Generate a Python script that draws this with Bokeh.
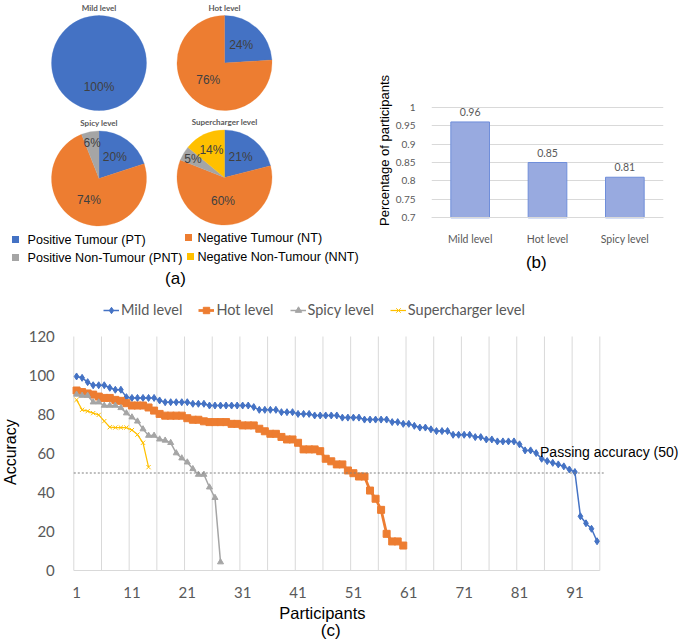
import math
from bokeh.plotting import figure
from bokeh.models import (Range1d, FactorRange, FixedTicker, Label, Legend,
                          LegendItem, NumeralTickFormatter)
from bokeh.layouts import column, row
from bokeh.embed import file_html
from bokeh.resources import INLINE
from bokeh.core.properties import value

# ---------------- data ----------------
pie_levels = ["Mild level", "Hot level", "Spicy level", "Supercharger level"]
pie_categories = ["Positive Tumour (PT)", "Negative Tumour (NT)",
                  "Positive Non-Tumour (PNT)", "Negative Non-Tumour (NNT)"]
mild_pie = [100, 0, 0, 0]
hot_pie = [24, 76, 0, 0]
spicy_pie = [20, 74, 6, 0]
super_pie = [21, 60, 5, 14]

bar_levels = ["Mild level", "Hot level", "Spicy level"]
bar_values = [0.96, 0.85, 0.81]
bar_ticks = [0.7, 0.75, 0.8, 0.85, 0.9, 0.95, 1.0]

line_names = ["Mild level", "Hot level", "Spicy level", "Supercharger level"]
mild_acc = [99.5, 98.8, 96.6, 95, 95, 95, 93.7, 92.7, 92.7, 88.9,
            88.5, 88.5, 88.5, 88.5, 88.5, 87.2, 86.3, 86.3, 86.3, 86.3,
            86.3, 85.5, 85.5, 85.5, 84.6, 84.6, 84.6, 84.6, 84.6, 84.6,
            84.6, 84.6, 83.8, 82.4, 82.4, 82.4, 82.4, 81.2, 81.2, 81.2,
            80.3, 80.3, 80.3, 79.5, 79.5, 79.5, 79.5, 79.5, 78.4, 78.4,
            78.4, 78.4, 77.4, 77.4, 77.4, 77.4, 77.4, 76.1, 76.1, 75.2,
            75.2, 74.2, 73.3, 73.3, 72.4, 71.5, 71.5, 71.5, 69.6, 69.6,
            69.6, 69.6, 68.4, 68.4, 67.2, 67.2, 66.2, 66.2, 66.2, 66.2,
            64.7, 61.6, 61.6, 60.2, 57.3, 56.1, 55.2, 54.4, 53.4, 51.8,
            50.5, 27.8, 24.2, 21.4, 15.0]
hot_acc = [92.3, 91.5, 90.8, 90.2, 89.2, 88.5, 88.5, 87.5, 87.0, 85.8,
           84.6, 84.6, 84.6, 83.6, 82.0, 80.3, 79.4, 79.4, 79.4, 79.4,
           78.1, 77.3, 77.3, 76.5, 76.1, 76.1, 76.1, 76.1, 75.2, 75.2,
           74.4, 74.4, 74.4, 72.7, 71.4, 70.1, 70.1, 68.5, 67.2, 67.2,
           65.5, 62.1, 62.1, 62.1, 61.2, 57.3, 56.0, 54.4, 54.4, 51.3,
           49.9, 48.2, 48.2, 41.0, 36.8, 31.1, 18.8, 14.9, 14.9, 12.8]
spicy_acc = [90.3, 89.7, 89.7, 86.3, 86.3, 84.6, 84.6, 84.6, 83.4, 80.7,
             78.6, 76.5, 72.5, 69.2, 69.2, 67.3, 66.7, 65.5, 60.2, 57.6,
             55.5, 52.1, 49.2, 49.2, 42.7, 37.3, 4.3]
super_acc = [87.5, 82.4, 81.7, 80.7, 79.8, 76.6, 73.5, 73.3, 73.3, 73.3,
             72.0, 69.7, 65.5, 53.0]
passing_accuracy = 50
x_tick_labels = [1, 11, 21, 31, 41, 51, 61, 71, 81, 91]
y_tick_labels = [0, 20, 40, 60, 80, 100, 120]

# ---------------- styles ----------------
pie_colors = ["#4472C4", "#ED7D31", "#A5A5A5", "#FFC000"]
GRAY_TXT = "#595959"
GRID = "#D9D9D9"
SANS_N = "Liberation Sans"
CAL_N = "Lato"
SANS = value(SANS_N)
CAL = value(CAL_N)

# ---------------- (a) pies ----------------
WA = 366
pa = figure(width=WA, height=300, x_range=Range1d(0, WA), y_range=Range1d(-300, 0),
            x_axis_location=None, y_axis_location=None, min_border=0,
            output_backend="svg", toolbar_location=None)
pa.grid.visible = False
pa.outline_line_color = None

pie_shares = [mild_pie, hot_pie, spicy_pie, super_pie]
pie_centers = [(98.5, 62.5), (224, 62.5), (98.5, 178), (224, 177)]
title_y = [7, 7, 122, 121]
R = 47.5
for level, shares, (cx, cy), ty in zip(pie_levels, pie_shares, pie_centers, title_y):
    total = float(sum(shares))
    cum = 0.0
    starts, ends, cols, lx, ly, lt = [], [], [], [], [], []
    for share, col in zip(shares, pie_colors):
        if share <= 0:
            continue
        f0 = cum / total
        f1 = (cum + share) / total
        cum += share
        # a slice covering the whole disc is drawn as two halves (a full arc is not rendered)
        pieces = 2 if (f1 - f0) > 0.999 else 1
        for k in range(pieces):
            a0 = f0 + (f1 - f0) * k / pieces
            a1 = f0 + (f1 - f0) * (k + 1) / pieces
            starts.append(math.pi / 2 - 2 * math.pi * a1)
            ends.append(math.pi / 2 - 2 * math.pi * a0)
            cols.append(col)
        mid = math.pi / 2 - 2 * math.pi * (f0 + f1) / 2
        frac = 0.5 + min(0.27, max(0.0, 25 - share) * 0.0135)
        lx.append(cx + R * frac * math.cos(mid))
        ly.append(-cy + R * frac * math.sin(mid))
        lt.append(f"{share}%")
    pa.wedge(x=cx, y=-cy, radius=R, start_angle=starts, end_angle=ends,
             fill_color=cols, line_color=cols, line_width=0.3)
    pa.text(x=lx, y=ly, text=lt, text_font=SANS, text_font_size="12px",
            text_color="#404040", text_align="center", text_baseline="middle")
    pa.text(x=[cx], y=[-ty], text=[level], text_font=CAL, text_font_size="8px",
            text_font_style="bold", text_color=GRAY_TXT, text_align="center",
            text_baseline="middle")

leg_sq_x = [15, 188, 15, 190]
leg_sq_y = [239, 237, 257, 256]
leg_tx = [27, 197, 27, 197]
pa.scatter(x=leg_sq_x, y=[-v for v in leg_sq_y], marker="square", size=7,
           fill_color=pie_colors, line_color=None)
pa.text(x=leg_tx, y=[-v for v in leg_sq_y], text=pie_categories, text_font=SANS,
        text_font_size="12.6px", text_color="#000000", text_baseline="middle")
pa.add_layout(Label(x=175, y=-278, text="(a)", text_font=SANS_N, text_font_size="17px",
                    text_align="center", text_baseline="middle", text_color="#000000"))

# ---------------- (b) bars ----------------
pb = figure(width=685 - WA, height=300, x_range=FactorRange(*bar_levels),
            y_range=Range1d(0.4757, 1.2894), min_border_left=431 - WA, min_border_right=22,
            min_border_top=0, min_border_bottom=0,
            output_backend="svg", toolbar_location=None)
pb.vbar(x=bar_levels, top=bar_values, bottom=0.7, width=0.5,
        fill_color="#98AAE0", line_color="#6F8EDA", line_width=1)
pb.text(x=bar_levels, y=bar_values, text=[f"{v:.2f}" for v in bar_values],
        y_offset=-10, text_font=CAL, text_font_size="10.5px", text_color=GRAY_TXT,
        text_align="center", text_baseline="middle")
pb.yaxis.ticker = FixedTicker(ticks=bar_ticks)
pb.yaxis.formatter = NumeralTickFormatter(format="0.[00]")
pb.yaxis.axis_line_color = None
pb.yaxis.major_tick_line_color = None
pb.yaxis.minor_tick_line_color = None
pb.yaxis.major_label_standoff = 10
pb.yaxis.axis_label = "Percentage of participants"
pb.yaxis.axis_label_standoff = 1
pb.yaxis.axis_label_text_font = SANS_N
pb.yaxis.axis_label_text_font_size = "13px"
pb.yaxis.axis_label_text_font_style = "normal"
pb.yaxis.axis_label_text_color = "#000000"
pb.xaxis.fixed_location = 0.7
pb.xaxis.axis_line_color = GRID
pb.xaxis.major_tick_line_color = None
pb.xaxis.major_label_standoff = 9
for ax in (pb.xaxis, pb.yaxis):
    ax.major_label_text_font = CAL_N
    ax.major_label_text_color = GRAY_TXT
pb.yaxis.major_label_text_font_size = "10px"
pb.xaxis.major_label_text_font_size = "10.5px"
pb.xgrid.visible = False
pb.ygrid.grid_line_color = GRID
pb.outline_line_color = None
pb.add_layout(Label(x=1.355, y=0.58, text="(b)", text_font=SANS_N, text_font_size="17px",
                    text_align="center", text_baseline="middle", text_color="#000000"))

# ---------------- (c) lines ----------------
X0, XSCALE = 73.3, 5.537   # pixel of category 0.5, px per participant
Y0, YSCALE = 570.0, 1.95   # pixel of accuracy 0, px per accuracy unit
pc = figure(width=685, height=344,
            x_range=Range1d(0.5 - X0 / XSCALE, 0.5 + (685 - X0) / XSCALE),
            y_range=Range1d((Y0 - 644) / YSCALE, (Y0 - 300) / YSCALE),
            min_border=0, output_backend="svg", toolbar_location=None)
series = [mild_acc, hot_acc, spicy_acc, super_acc]
line_colors = ["#4472C4", "#ED7D31", "#A5A5A5", "#FFC000"]
line_widths = [1.5, 2.75, 1.5, 1.25]
markers = ["diamond", "square", "triangle", "x"]
msizes = [7, 7, 6, 6]
n_max = max(len(s) for s in series)
x_lo, x_hi = 0.5, n_max + 0.5

grid_x = [x_lo + 5 * k for k in range(int((x_hi - x_lo) // 5) + 1)]
pc.segment(x0=grid_x, y0=0, x1=grid_x, y1=max(y_tick_labels), line_color=GRID, line_width=1)
pc.segment(x0=[x_lo], y0=[0], x1=[x_hi], y1=[0], line_color=GRID, line_width=1)

items = []
for name, vals, col, lw, mk, ms in zip(line_names, series, line_colors, line_widths, markers, msizes):
    xs = list(range(1, len(vals) + 1))
    l = pc.line(xs, vals, line_color=col, line_width=lw)
    s = pc.scatter(xs, vals, marker=mk, size=ms, fill_color=col, line_color=col, line_width=1)
    items.append(LegendItem(label=name, renderers=[l, s]))

pc.line([x_lo, x_hi + 0.7], [passing_accuracy, passing_accuracy], line_color="#7F7F7F",
        line_dash="2 2", line_width=1)
pc.add_layout(Label(x=84.7, y=60.7, text=f"Passing accuracy ({passing_accuracy})",
                    text_font=SANS_N, text_font_size="14px", text_align="left",
                    text_baseline="middle", text_color="#000000"))
legend = Legend(items=items, orientation="horizontal", location=(103, 326),
                padding=0, margin=0, spacing=16, glyph_width=16, glyph_height=16,
                label_standoff=2, label_height=16, label_text_font=CAL_N,
                label_text_font_size="14.5px", label_text_color=GRAY_TXT,
                background_fill_alpha=0, border_line_alpha=0)
pc.add_layout(legend)

pc.grid.visible = False
pc.xaxis.fixed_location = 0
pc.xaxis.ticker = FixedTicker(ticks=x_tick_labels)
pc.xaxis.axis_line_color = None
pc.xaxis.major_tick_line_color = None
pc.xaxis.minor_tick_line_color = None
pc.xaxis.major_label_standoff = 10
pc.yaxis.fixed_location = x_lo
pc.yaxis.ticker = FixedTicker(ticks=y_tick_labels)
pc.yaxis.axis_line_color = None
pc.yaxis.major_tick_line_color = None
pc.yaxis.minor_tick_line_color = None
pc.yaxis.major_label_standoff = 13
for ax in (pc.xaxis, pc.yaxis):
    ax.major_label_text_font = CAL_N
    ax.major_label_text_font_size = "15px"
    ax.major_label_text_color = GRAY_TXT
pc.outline_line_color = None
pc.add_layout(Label(x=-11.0, y=60.7, text="Accuracy", angle=math.pi / 2, text_font=SANS_N,
                    text_font_size="16px", text_align="center", text_baseline="middle",
                    text_color="#000000"))
pc.add_layout(Label(x=45.4, y=-21.9, text="Participants", text_font=SANS_N,
                    text_font_size="16.5px", text_align="center", text_baseline="middle",
                    text_color="#000000"))
pc.add_layout(Label(x=46.9, y=-30.8, text="(c)", text_font=SANS_N, text_font_size="17px",
                    text_align="center", text_baseline="middle", text_color="#000000"))

layout = column(row(pa, pb), pc)
open("out.html", "w").write(file_html(layout, INLINE))
